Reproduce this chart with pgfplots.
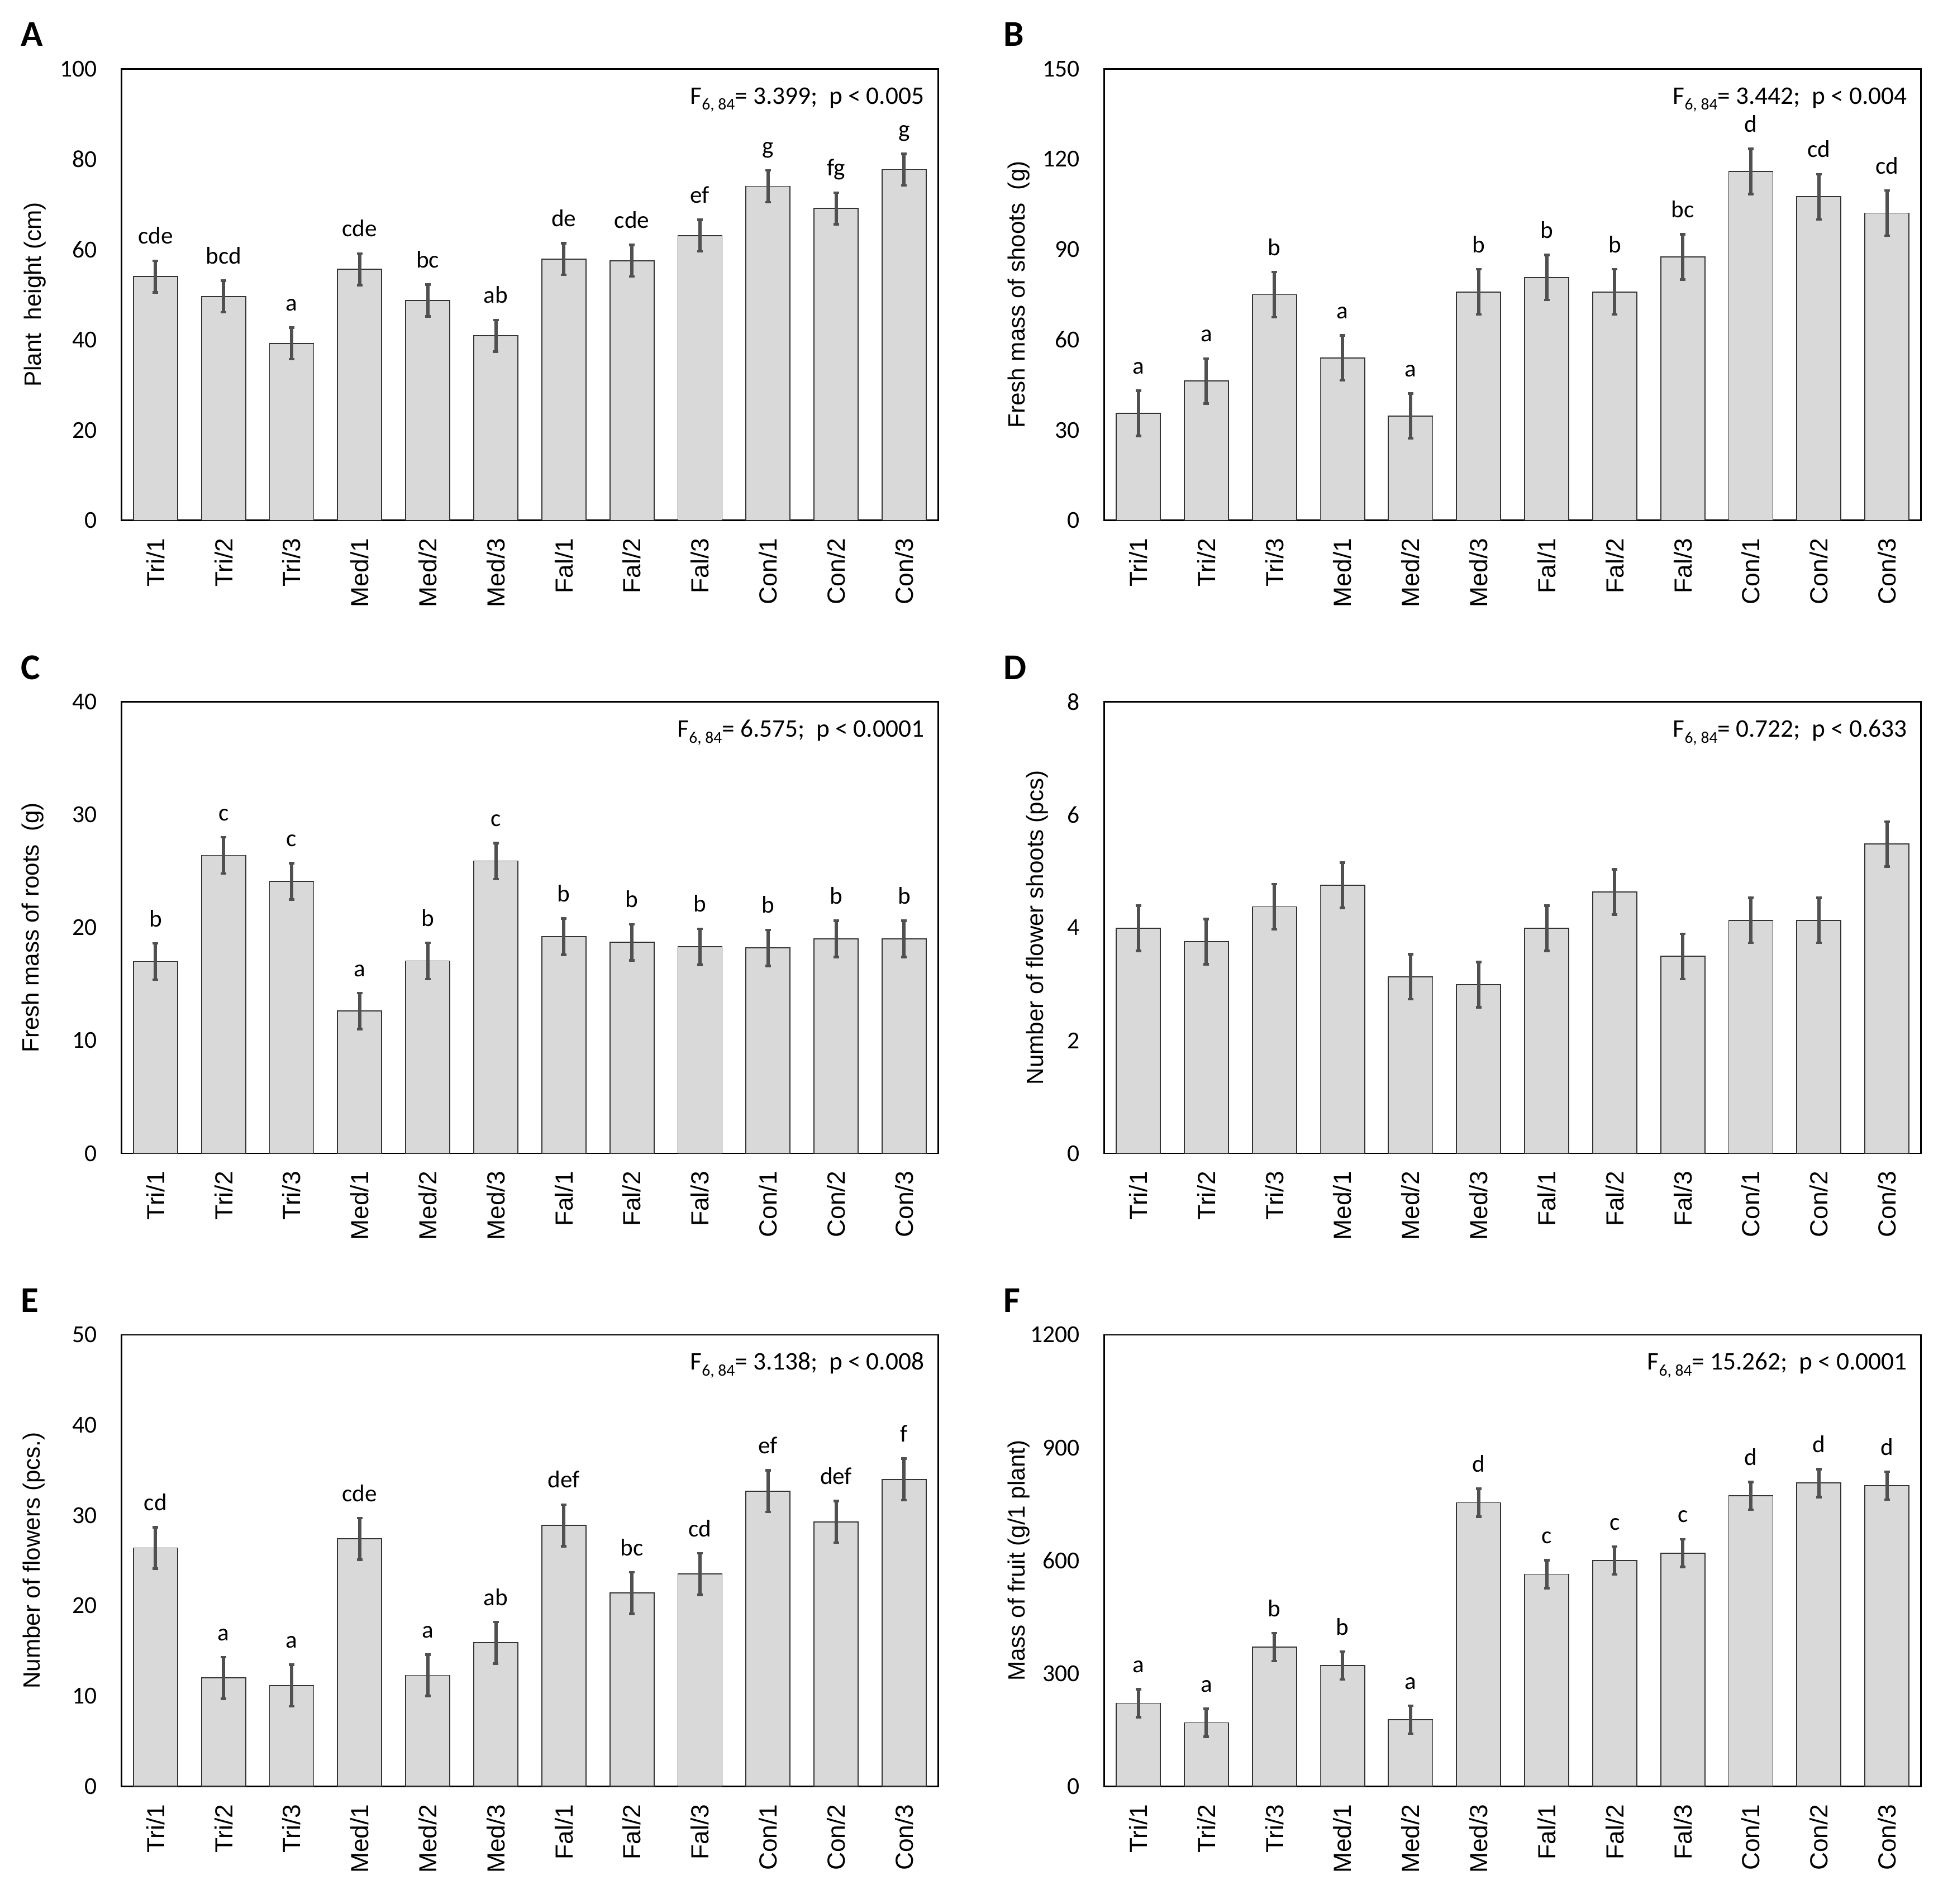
\documentclass[border=0pt]{standalone}
\usepackage{fontspec}
\setmainfont{Carlito}
\newfontfamily\arialf{Liberation Sans}
\usepackage{pgfplots}
\usepackage{pgfplotstable}
\pgfplotsset{compat=1.18}

\definecolor{barfill}{HTML}{D9D9D9}
\definecolor{errc}{HTML}{505050}

% x y e lab
\pgfplotstableread{
x y e lab
1 54.0 3.5 cde
2 49.6 3.5 bcd
3 39.2 3.5 a
4 55.6 3.5 cde
5 48.7 3.5 bc
6 40.9 3.5 ab
7 57.9 3.5 de
8 57.5 3.5 cde
9 63.1 3.5 ef
10 74.0 3.5 g
11 69.1 3.5 fg
12 77.7 3.5 g
}\tA
\pgfplotstableread{
x y e lab
1 35.6 7.5 a
2 46.3 7.5 a
3 75.0 7.5 b
4 54.0 7.5 a
5 34.7 7.5 a
6 75.9 7.5 b
7 80.7 7.5 b
8 75.9 7.5 b
9 87.5 7.5 bc
10 115.9 7.5 d
11 107.5 7.5 cd
12 102.1 7.5 cd
}\tB
\pgfplotstableread{
x y e lab
1 17.0 1.6 b
2 26.4 1.6 c
3 24.1 1.6 c
4 12.6 1.6 a
5 17.05 1.6 b
6 25.9 1.6 c
7 19.2 1.6 b
8 18.7 1.6 b
9 18.3 1.6 b
10 18.2 1.6 b
11 19.0 1.6 b
12 19.0 1.6 b
}\tC
\pgfplotstableread{
x y e
1 3.99 0.4
2 3.75 0.4
3 4.37 0.4
4 4.75 0.4
5 3.13 0.4
6 2.99 0.4
7 3.99 0.4
8 4.63 0.4
9 3.49 0.4
10 4.13 0.4
11 4.13 0.4
12 5.48 0.4
}\tD
\pgfplotstableread{
x y e lab
1 26.4 2.3 cd
2 12.0 2.3 a
3 11.16 2.3 a
4 27.4 2.3 cde
5 12.3 2.3 a
6 15.9 2.3 ab
7 28.9 2.3 def
8 21.4 2.3 bc
9 23.5 2.3 cd
10 32.7 2.3 ef
11 29.3 2.3 def
12 34.0 2.3 f
}\tE
\pgfplotstableread{
x y e lab
1 221 37 a
2 169 37 a
3 370 37 b
4 321 37 b
5 177 37 a
6 754 37 d
7 564 37 c
8 600 37 c
9 620 37 c
10 772 37 d
11 806 37 d
12 799 37 d
}\tF

\pgfplotsset{
  panel/.style={
    width=146.18mm, height=80.84mm, scale only axis,
    anchor=north west,
    xmin=0.5, xmax=12.5, ymin=0,
    xtick={1,...,12},
    xticklabels={Tri/1,Tri/2,Tri/3,Med/1,Med/2,Med/3,Fal/1,Fal/2,Fal/3,Con/1,Con/2,Con/3},
    major tick length=0pt,
    axis line style={line width=0.27mm, black},
    xticklabel style={rotate=90, anchor=east, inner sep=0pt,
      font=\arialf\fontsize{12.6}{14}\selectfont},
    xticklabel shift=3.16mm,
    yticklabel style={anchor=east, inner sep=0pt, font=\fontsize{12.4}{14}\selectfont},
    yticklabel shift=4.35mm,
    /pgf/number format/assume math mode=true,
    /pgf/number format/1000 sep={},
    ylabel style={anchor=center, font=\arialf\fontsize{12}{14}\selectfont},
  },
  bars/.style={ybar, bar width=0.649, fill=barfill, draw=black!80, line width=0.18mm,
    error bars/y dir=both, error bars/y explicit,
    error bars/error bar style={line width=0.6mm, color=errc},
    error bars/error mark options={rotate=90, line width=0.45mm, mark size=0.5mm, color=errc}},
  lets/.style={draw=none, mark=none, nodes near coords, point meta=explicit symbolic,
    nodes near coords style={anchor=base, yshift=3mm, text=black,
      font=\fontsize{12.3}{14}\selectfont}},
}

\newcommand{\fstat}[2]{F\raisebox{-1.07mm}{\fontsize{8.4}{9}\selectfont 6, 84}= #1;\ \ p < #2}
\newcommand{\fnode}[2]{\node[anchor=base east, inner sep=0pt, font=\fontsize{12.9}{14}\selectfont]
  at ([xshift=-2.43mm, yshift=-6.27mm] rel axis cs:1,1) {\fstat{#1}{#2}};}

\begin{document}
\begin{tikzpicture}
\useasboundingbox (0,0) rectangle (347.8mm,-340.8mm);

\begin{axis}[panel, at={(21.75mm,-12.33mm)}, ymax=100, ytick={0,20,...,100},
  ylabel={Plant\ \ height (cm)}, ylabel style={at={(axis description cs:-0.106,0.5)}}]
\addplot[bars] table[x=x, y=y, y error=e] {\tA};
\addplot[lets] table[x=x, y expr=\thisrow{y}+\thisrow{e}, meta=lab] {\tA};
\fnode{3.399}{0.005}
\end{axis}

\begin{axis}[panel, at={(197.67mm,-12.33mm)}, ymax=150, ytick={0,30,...,150},
  ylabel={Fresh mass of shoots\ \ (g)}, ylabel style={at={(axis description cs:-0.105,0.5)}}]
\addplot[bars] table[x=x, y=y, y error=e] {\tB};
\addplot[lets] table[x=x, y expr=\thisrow{y}+\thisrow{e}, meta=lab] {\tB};
\fnode{3.442}{0.004}
\end{axis}

\begin{axis}[panel, at={(21.75mm,-125.66mm)}, ymax=40, ytick={0,10,...,40},
  ylabel={Fresh mass of roots\ \ (g)}, ylabel style={at={(axis description cs:-0.109,0.5)}}]
\addplot[bars] table[x=x, y=y, y error=e] {\tC};
\addplot[lets] table[x=x, y expr=\thisrow{y}+\thisrow{e}, meta=lab] {\tC};
\fnode{6.575}{0.0001}
\end{axis}

\begin{axis}[panel, at={(197.67mm,-125.66mm)}, ymax=8, ytick={0,2,...,8},
  ylabel={Number of flower shoots (pcs)}, ylabel style={at={(axis description cs:-0.082,0.5)}}]
\addplot[bars] table[x=x, y=y, y error=e] {\tD};
\fnode{0.722}{0.633}
\end{axis}

\begin{axis}[panel, at={(21.75mm,-238.99mm)}, ymax=50, ytick={0,10,...,50},
  ylabel={Number of flowers (pcs.)}, ylabel style={at={(axis description cs:-0.107,0.5)}}]
\addplot[bars] table[x=x, y=y, y error=e] {\tE};
\addplot[lets] table[x=x, y expr=\thisrow{y}+\thisrow{e}, meta=lab] {\tE};
\fnode{3.138}{0.008}
\end{axis}

\begin{axis}[panel, at={(197.67mm,-238.99mm)}, ymax=1200, ytick={0,300,...,1200},
  ylabel={Mass of fruit (g/1 plant)}, ylabel style={at={(axis description cs:-0.105,0.5)}}]
\addplot[bars] table[x=x, y=y, y error=e] {\tF};
\addplot[lets] table[x=x, y expr=\thisrow{y}+\thisrow{e}, meta=lab] {\tF};
\fnode{15.262}{0.0001}
\end{axis}

\begin{scope}[every node/.style={anchor=base west, inner sep=0pt,
    font=\bfseries\fontsize{18.5}{20}\selectfont}]
\node at (3.7mm,-8.27mm) {A};
\node at (179.62mm,-8.27mm) {B};
\node at (3.7mm,-121.6mm) {C};
\node at (179.62mm,-121.6mm) {D};
\node at (3.7mm,-234.93mm) {E};
\node at (179.62mm,-234.93mm) {F};
\end{scope}
\end{tikzpicture}
\end{document}
